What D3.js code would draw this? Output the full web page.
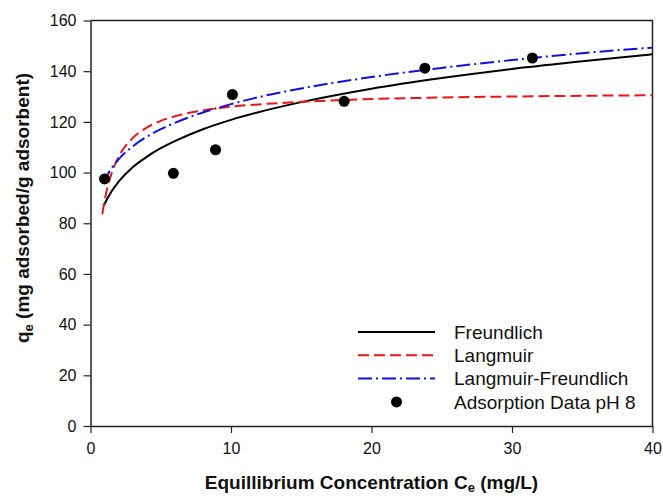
<!DOCTYPE html>
<html>
<head>
<meta charset="utf-8">
<script src="https://cdn.jsdelivr.net/npm/d3@7"></script>
<style>
  body { margin: 0; background: #fff; }
  svg { display: block; font-family: "Liberation Sans", Arial, sans-serif; }
</style>
</head>
<body>
<script>
const width = 663;
const height = 497;

// measured data (Ce in mg/L, qe in mg/g)
const dataCe = [1.0, 5.9, 8.9, 10.1, 18.05, 23.8, 31.45];
const dataQe = [97.5, 99.7, 109, 130.8, 128.1, 141.2, 145.2];

// fitted curves
const freundCe = [0.97, 1, 1.5, 2, 3, 4, 5, 6, 8, 10, 12, 15, 20, 25, 30, 35, 40];
const freundQe = [87.1, 87.5, 92.6, 96.4, 102.1, 106.2, 109.6, 112.4, 117.1, 120.8, 123.9, 127.8, 133.1, 137.3, 140.9, 143.9, 146.7];

const langCe = [0.84, 1, 1.5, 2, 3, 4, 5, 6, 8, 10, 12, 15, 20, 25, 30, 35, 40];
const langQe = [83.6, 88.8, 99.7, 106.2, 113.6, 117.7, 120.4, 122.2, 124.5, 126.0, 126.9, 127.9, 129.0, 129.6, 130.0, 130.3, 130.5];

const lfCe = [0.9, 1, 1.5, 2, 3, 4, 5, 6, 8, 10, 12, 15, 20, 25, 30, 35, 40];
const lfQe = [95.8, 97, 101.7, 105.2, 110.3, 114.1, 117.1, 119.6, 123.7, 127, 129.8, 133.2, 137.7, 141.3, 144.4, 147.1, 149.3];

const xTicks = [0, 10, 20, 30, 40];
const yTicks = [0, 20, 40, 60, 80, 100, 120, 140, 160];

const legendLabels = ["Freundlich", "Langmuir", "Langmuir-Freundlich", "Adsorption Data pH 8"];

const margin = {top: 20.5, right: 10.5, bottom: 71, left: 90.5};

const svg = d3.select("body").append("svg")
    .attr("width", width)
    .attr("height", height);

const x = d3.scaleLinear().domain([0, 40]).range([margin.left, width - margin.right]);
const y = d3.scaleLinear().domain([0, 160]).range([height - margin.bottom, margin.top]);

// frame (top and right)
svg.append("path")
    .attr("d", `M${x(0)},${y(160)}H${x(40)}V${y(0)}`)
    .attr("fill", "none")
    .attr("stroke", "#222")
    .attr("stroke-width", 1.5);

const xAxis = svg.append("g")
    .attr("transform", `translate(0,${y(0)})`)
    .call(d3.axisBottom(x).tickValues(xTicks).tickSize(7).tickPadding(10).tickSizeOuter(0));

const yAxis = svg.append("g")
    .attr("transform", `translate(${x(0)},0)`)
    .call(d3.axisLeft(y).tickValues(yTicks).tickSize(7).tickPadding(7).tickSizeOuter(0));

[xAxis, yAxis].forEach(g => {
    g.select(".domain").attr("stroke", "#222").attr("stroke-width", 1.5);
    g.selectAll(".tick line").attr("stroke", "#222").attr("stroke-width", 1.2);
    g.selectAll(".tick text")
        .attr("fill", "#111")
        .style("font-size", "16px")
        .style("font-family", "Liberation Sans, Arial, sans-serif");
});

const line = d3.line()
    .x(d => x(d[0]))
    .y(d => y(d[1]))
    .curve(d3.curveMonotoneX);

const series = [
    {name: legendLabels[0], ce: freundCe, qe: freundQe, color: "#000", dash: null},
    {name: legendLabels[1], ce: langCe, qe: langQe, color: "#e8141c", dash: "11,5"},
    {name: legendLabels[2], ce: lfCe, qe: lfQe, color: "#1010e0", dash: "14,4,2,4"}
];

svg.append("g")
    .selectAll("path")
    .data(series)
    .enter()
    .append("path")
    .attr("d", d => line(d.ce.map((c, i) => [c, d.qe[i]])))
    .attr("fill", "none")
    .attr("stroke", d => d.color)
    .attr("stroke-width", 2)
    .attr("stroke-dasharray", d => d.dash);

svg.append("g")
    .selectAll("circle")
    .data(dataCe.map((c, i) => [c, dataQe[i]]))
    .enter()
    .append("circle")
    .attr("cx", d => x(d[0]))
    .attr("cy", d => y(d[1]))
    .attr("r", 5.5)
    .attr("fill", "#000");

// legend
const legend = svg.append("g");
const lx0 = 358, lx1 = 435, ly0 = 332, ldy = 23.3;
series.forEach((s, i) => {
    legend.append("line")
        .attr("x1", lx0).attr("x2", lx1)
        .attr("y1", ly0 + i * ldy).attr("y2", ly0 + i * ldy)
        .attr("stroke", s.color)
        .attr("stroke-width", 2)
        .attr("stroke-dasharray", s.dash);
});
legend.append("circle")
    .attr("cx", (lx0 + lx1) / 2)
    .attr("cy", ly0 + 3 * ldy)
    .attr("r", 5.5)
    .attr("fill", "#000");
legend.selectAll("text")
    .data(legendLabels)
    .enter()
    .append("text")
    .attr("x", 454)
    .attr("y", (d, i) => ly0 + i * ldy)
    .attr("dy", "0.35em")
    .style("font-size", "19px")
    .attr("fill", "#111")
    .text(d => d);

// axis titles
const xt = svg.append("text")
    .attr("x", (x(0) + x(40)) / 2)
    .attr("y", 489)
    .attr("text-anchor", "middle")
    .style("font-size", "19px")
    .style("font-weight", "bold")
    .attr("fill", "#111");
xt.append("tspan").text("Equillibrium Concentration C");
xt.append("tspan").attr("dy", 3).style("font-size", "13px").text("e");
xt.append("tspan").attr("dy", -3).text(" (mg/L)");

const yt = svg.append("text")
    .attr("transform", "translate(29,208) rotate(-90)")
    .attr("text-anchor", "middle")
    .style("font-size", "19px")
    .style("font-weight", "bold")
    .attr("fill", "#111");
yt.append("tspan").text("q");
yt.append("tspan").attr("dy", 4).style("font-size", "13px").text("e");
yt.append("tspan").attr("dy", -4).text(" (mg adsorbed/g adsorbent)");
</script>
</body>
</html>
